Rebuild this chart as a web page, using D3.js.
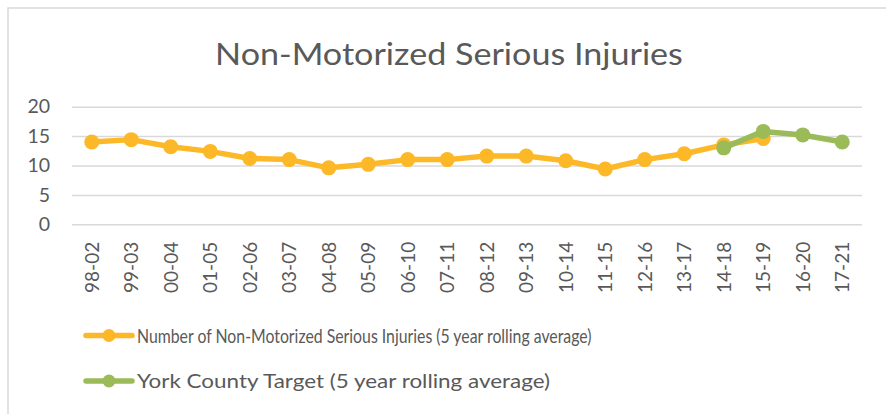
<!DOCTYPE html>
<html><head><meta charset="utf-8">
<script src="https://cdn.jsdelivr.net/npm/d3@7"></script>
<style>body{margin:0;background:#fff}svg{display:block}text{font-family:Lato,"Open Sans",sans-serif;fill:#595959}</style>
</head><body><svg id="c" width="886" height="414"></svg>
<script>
const categories = ["98-02","99-03","00-04","01-05","02-06","03-07","04-08","05-09","06-10","07-11","08-12","09-13","10-14","11-15","12-16","13-17","14-18","15-19","16-20","17-21"];
const injuries = [14,14.4,13.2,12.4,11.2,11,9.6,10.2,11,11,11.6,11.6,10.8,9.4,11,12,13.5,14.6,null,null];
const target = [null,null,null,null,null,null,null,null,null,null,null,null,null,null,null,null,13,15.8,15.2,14];
const yTicks = [0,5,10,15,20];
const seriesNames = ["Number of Non-Motorized Serious Injuries (5 year rolling average)","York County Target (5 year rolling average)"];
const colors = ["#FDB827","#9BBB59"];
const title = "Non-Motorized Serious Injuries";

const svg = d3.select("#c");
svg.append("rect").attr("x",8).attr("y",8).attr("width",890).attr("height",420).attr("fill","#fff").attr("stroke","#d9d9d9").attr("stroke-width",1.5);

const x = d3.scaleBand().domain(categories).range([72,862]);
const y = d3.scaleLinear().domain([0,20]).range([224.3,106.7]);

// helper: place text in group and squeeze horizontally to a target width
function fitText(parent, tx, ty, str, size, width, anchor){
  const g = parent.append("g").attr("transform",`translate(${tx},${ty})`);
  const t = g.append("text").attr("text-anchor",anchor||"start").attr("dy","0.35em").style("font-size",size+"px").text(str);
  const w = t.node().getComputedTextLength();
  if (w>0) t.attr("transform",`scale(${width/w},1)`);
  return t;
}

// title
fitText(svg, 449, 54, title, 31, 468, "middle");

// grid
const yAxis = svg.append("g").attr("transform","translate(72,0)")
  .call(d3.axisLeft(y).tickValues(yTicks).tickSize(-790).tickPadding(22));
yAxis.select(".domain").remove();
yAxis.selectAll(".tick line").attr("stroke","#d9d9d9").attr("stroke-width",1.5);
yAxis.selectAll(".tick text").style("font-size","19.5px").attr("fill","#595959");

const xAxis = svg.append("g").attr("transform","translate(0,224.3)")
  .call(d3.axisBottom(x).tickSize(0));
xAxis.select(".domain").remove();
xAxis.selectAll(".tick text").style("font-size","19px").attr("fill","#595959")
  .attr("transform","rotate(-90)").attr("text-anchor","end").attr("x",-17.5).attr("y",0).attr("dy","0.36em");

function drawSeries(vals, color){
  const pts = categories.map((c,i)=>({c, v: vals[i]})).filter(d=>d.v!=null);
  svg.append("path").datum(pts).attr("fill","none").attr("stroke",color).attr("stroke-width",5.5).attr("stroke-linejoin","round")
    .attr("d", d3.line().x(d=>x(d.c)+x.bandwidth()/2).y(d=>y(d.v)));
  svg.append("g").selectAll("circle").data(pts).join("circle")
    .attr("cx",d=>x(d.c)+x.bandwidth()/2).attr("cy",d=>y(d.v)).attr("r",7.5).attr("fill",color);
}
drawSeries(injuries, colors[0]);
drawSeries(target, colors[1]);

// legend
const lg = svg.append("g");
seriesNames.forEach((n,i)=>{
  const yy = 335.5 + i*45.5;
  lg.append("line").attr("x1",86).attr("x2",132).attr("y1",yy).attr("y2",yy).attr("stroke",colors[i]).attr("stroke-width",5.5).attr("stroke-linecap","round");
  lg.append("circle").attr("cx",109).attr("cy",yy).attr("r",6.5).attr("fill",colors[i]);
  fitText(lg, 137, yy, n, 20, i===0?455:413, "start");
});
</script></body></html>
